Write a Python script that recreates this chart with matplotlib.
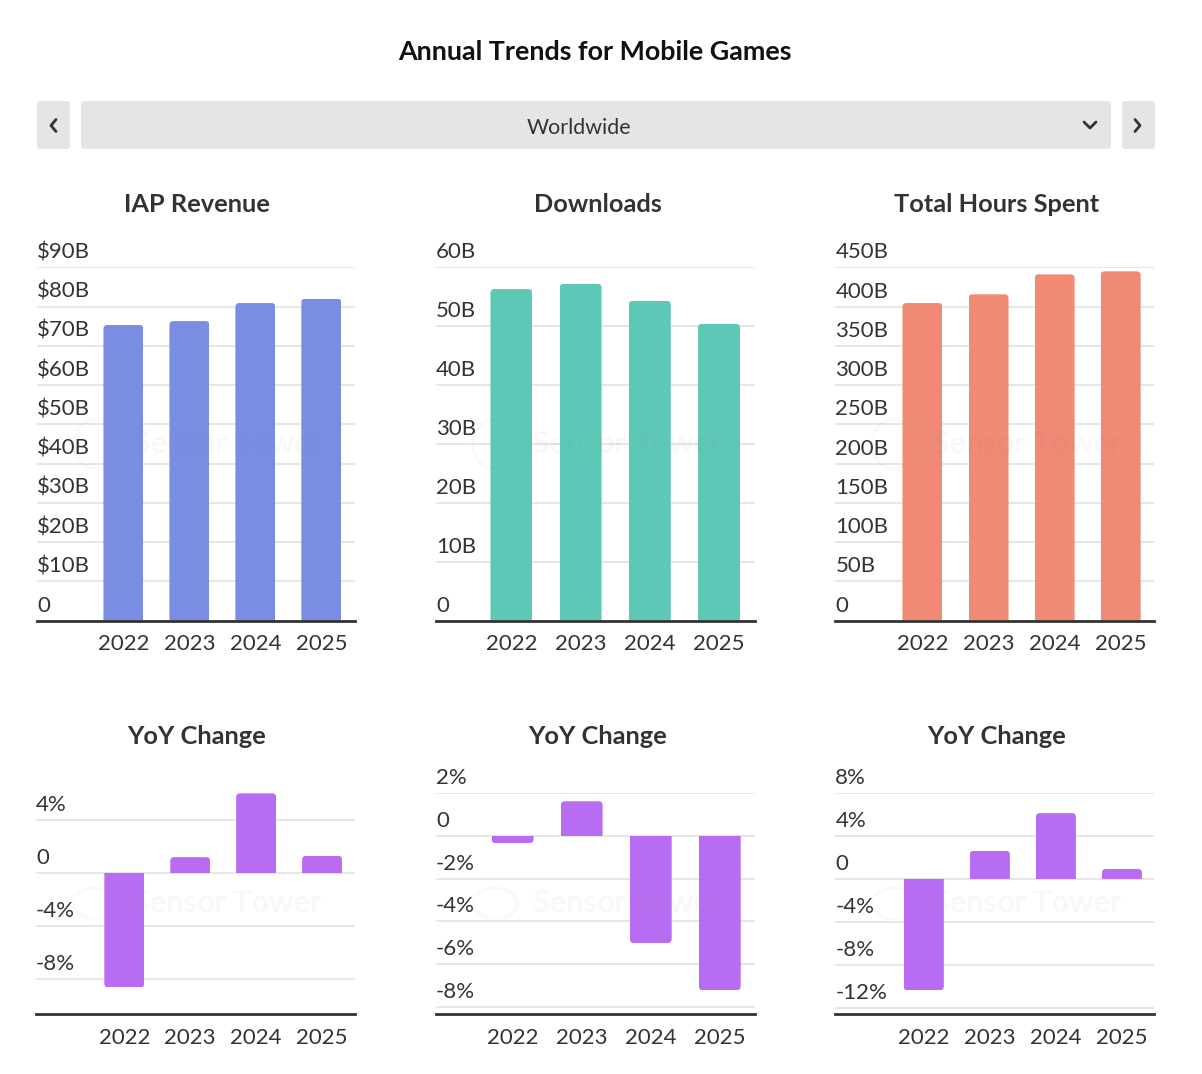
import matplotlib
matplotlib.use('Agg')
import matplotlib.pyplot as plt
from matplotlib.patches import FancyBboxPatch, Circle

# ---------------- data ----------------
years = ['2022', '2023', '2024', '2025']
iap_revenue = [75.3, 76.3, 80.9, 82.0]        # $B
downloads = [56.3, 57.2, 54.3, 50.4]          # B
hours_spent = [404.5, 415.6, 441.0, 444.9]    # B
iap_yoy = [-8.6, 1.2, 6.0, 1.3]               # %
downloads_yoy = [-0.35, 1.6, -5.0, -7.2]      # %
hours_yoy = [-10.4, 2.6, 6.1, 0.9]            # %

iap_ticks = [0, 10, 20, 30, 40, 50, 60, 70, 80, 90]
iap_tick_labels = ['0', '$10B', '$20B', '$30B', '$40B', '$50B', '$60B', '$70B', '$80B', '$90B']
dl_ticks = [0, 10, 20, 30, 40, 50, 60]
dl_tick_labels = ['0', '10B', '20B', '30B', '40B', '50B', '60B']
hr_ticks = [0, 50, 100, 150, 200, 250, 300, 350, 400, 450]
hr_tick_labels = ['0', '50B', '100B', '150B', '200B', '250B', '300B', '350B', '400B', '450B']
iap_yoy_ticks = [-8, -4, 0, 4]
iap_yoy_labels = ['-8%', '-4%', '0', '4%']
dl_yoy_ticks = [-8, -6, -4, -2, 0, 2]
dl_yoy_labels = ['-8%', '-6%', '-4%', '-2%', '0', '2%']
hr_yoy_ticks = [-12, -8, -4, 0, 4, 8]
hr_yoy_labels = ['-12%', '-8%', '-4%', '0', '4%', '8%']

title = 'Annual Trends for Mobile Games'
region = 'Worldwide'
panel_titles = ['IAP Revenue', 'Downloads', 'Total Hours Spent']
yoy_title = 'YoY Change'

# ---------------- style ----------------
FONT = 'Lato'
plt.rcParams['font.family'] = [FONT, 'DejaVu Sans']
TXT = '#333333'
GRID = '#e2e2e2'
C_IAP = '#7b8ce3'
C_DL = '#5ec8b6'
C_HR = '#f08a74'
C_YOY = '#b86cf2'
TICK_FS = 16

W, H = 1202, 1074
fig = plt.figure(figsize=(W / 100, H / 100), dpi=100)
fig.patch.set_facecolor('white')

# background axes in pixel coordinates for decorations
bg = fig.add_axes([0, 0, 1, 1], zorder=-5)
bg.set_xlim(0, W)
bg.set_ylim(H, 0)
bg.axis('off')

bg.text(595, 59.5, title, ha='center', va='baseline', fontsize=19.4,
        fontweight='bold', color='#111111')

# dropdown
def rbox(x0, y0, x1, y1, color='#e5e5e5'):
    bg.add_patch(FancyBboxPatch((x0, y0), x1 - x0, y1 - y0,
                                boxstyle='round,pad=0,rounding_size=3',
                                fc=color, ec='none'))

rbox(37, 101, 70, 149)
rbox(81, 101, 1111, 149)
rbox(1122, 101, 1155, 149)
bg.text(579, 126, region, ha='center', va='center_baseline', fontsize=15.4, color=TXT)
bg.plot([56, 51, 56], [119.5, 125.5, 131.5], color=TXT, lw=2, solid_capstyle='round')
bg.plot([1135, 1140, 1135], [119.5, 125.5, 131.5], color=TXT, lw=2, solid_capstyle='round')
bg.plot([1084, 1090, 1096], [122, 128, 122], color=TXT, lw=2, solid_capstyle='round')


def px_axes(l, t, r, b):
    return fig.add_axes([l / W, 1 - b / H, (r - l) / W, (b - t) / H])


def round_far_end(ax, bars, radius_px=4.0):
    """Clip each bar with a rounded box so only the end away from zero is rounded."""
    bb = ax.get_position()
    x0, x1 = ax.get_xlim()
    y0, y1 = ax.get_ylim()
    wpx = bb.width * W
    hpx = bb.height * H
    rx = radius_px * (x1 - x0) / wpx
    ry = radius_px * (y1 - y0) / hpx
    for rect in bars:
        x, y = rect.get_x(), rect.get_y()
        w, h = rect.get_width(), rect.get_height()
        lo, hi = min(y, y + h), max(y, y + h)
        if h >= 0:
            lo -= 3 * ry
        else:
            hi += 3 * ry
        clip = FancyBboxPatch((x, lo), w, hi - lo,
                              boxstyle=f'round,pad=0,rounding_size={rx}',
                              mutation_aspect=ry / rx, transform=ax.transData)
        rect.set_clip_path(clip)


def draw_panel(ax, values, color, ticks, labels, xlim, ylim, ttl, tx, ty):
    ax.set_xlim(*xlim)
    ax.set_ylim(*ylim)
    ax.set_axisbelow(True)
    bars = ax.bar(range(len(years)), values, width=0.606, color=color, zorder=2)
    round_far_end(ax, bars)
    ax.set_yticks(ticks)
    ax.yaxis.grid(True, color=GRID, lw=1.2)
    ax.tick_params(axis='y', length=0, labelleft=False)
    for v, lab in zip(ticks, labels):
        ax.annotate(lab, xy=(0, v), xycoords=('axes fraction', 'data'),
                    xytext=(0, 6.5), textcoords='offset points',
                    ha='left', va='baseline', fontsize=TICK_FS, color=TXT,
                    annotation_clip=False)
    ax.set_xticks(range(len(years)), years)
    ax.tick_params(axis='x', length=0, pad=21.4, labelsize=TICK_FS, labelcolor=TXT)
    for lab in ax.get_xticklabels():
        lab.set_verticalalignment('baseline')
    for s in ['top', 'left', 'right']:
        ax.spines[s].set_visible(False)
    ax.spines['bottom'].set_color('#333333')
    ax.spines['bottom'].set_linewidth(2)
    ax.spines['bottom'].set_zorder(3)
    fig.text(tx / W, 1 - ty / H, ttl, ha='center', va='baseline', fontsize=18.3,
             fontweight='bold', color=TXT)
    # faint watermark
    ax.add_patch(Circle((0.185, 0.5), 0.07, transform=ax.transAxes, fill=False,
                        ec='#999999', lw=2, alpha=0.06, zorder=4))
    ax.text(0.6, 0.5, 'Sensor Tower', transform=ax.transAxes, ha='center',
            va='center', fontsize=22, fontweight='bold', color='#888888',
            alpha=0.06, zorder=4)


top_y = (267.3, 620.7)
bot_y = (792.7, 1014)

ax1 = px_axes(37, top_y[0], 355, top_y[1])
draw_panel(ax1, iap_revenue, C_IAP, iap_ticks, iap_tick_labels, (-1.31, 3.51), (0, 90),
           panel_titles[0], 197, 211.7)
ax2 = px_axes(436, top_y[0], 755, top_y[1])
draw_panel(ax2, downloads, C_DL, dl_ticks, dl_tick_labels, (-1.09, 3.52), (0, 60),
           panel_titles[1], 598, 211.7)
ax3 = px_axes(835.3, top_y[0], 1154.3, top_y[1])
draw_panel(ax3, hours_spent, C_HR, hr_ticks, hr_tick_labels, (-1.32, 3.51), (0, 450),
           panel_titles[2], 997, 211.7)

ax4 = px_axes(36, bot_y[0], 355, bot_y[1])
draw_panel(ax4, iap_yoy, C_YOY, iap_yoy_ticks, iap_yoy_labels, (-1.34, 3.50), (-10.6, 6.05),
           yoy_title, 197, 744)
ax5 = px_axes(436, bot_y[0], 755, bot_y[1])
draw_panel(ax5, downloads_yoy, C_YOY, dl_yoy_ticks, dl_yoy_labels, (-1.11, 3.51), (-8.31, 2.0),
           yoy_title, 598, 744)
ax6 = px_axes(835.3, bot_y[0], 1154.3, bot_y[1])
draw_panel(ax6, hours_yoy, C_YOY, hr_yoy_ticks, hr_yoy_labels, (-1.34, 3.49), (-12.6, 8.0),
           yoy_title, 997, 744)

fig.savefig('out.png', dpi=100, facecolor='white')
